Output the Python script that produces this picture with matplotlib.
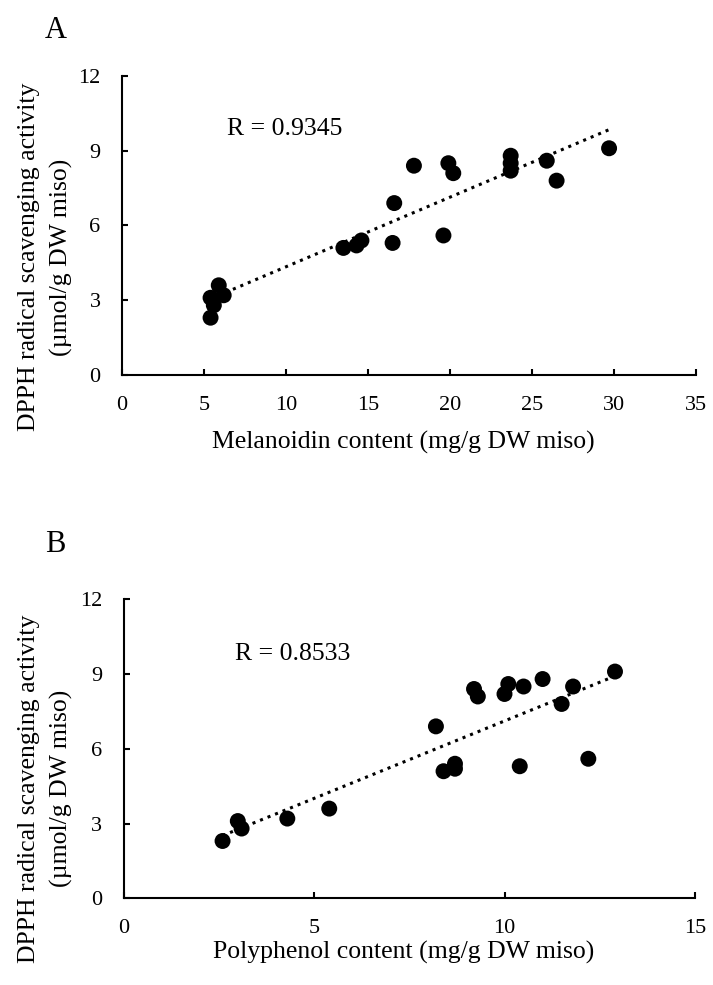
import numpy as np
import matplotlib
matplotlib.use("Agg")
import matplotlib.pyplot as plt

plt.rcParams['font.family'] = ['Liberation Serif', 'DejaVu Serif']

# Data
melanoidin = [5.4, 5.6, 5.4, 5.9, 6.2, 13.5, 14.3, 14.6, 16.5, 16.6,
              17.8, 19.6, 19.9, 20.2, 23.7, 23.7, 23.7, 25.9, 26.5, 29.7]
dpph_a = [2.3, 2.8, 3.1, 3.6, 3.2, 5.1, 5.2, 5.4, 5.3, 6.9,
          8.4, 5.6, 8.5, 8.1, 8.8, 8.5, 8.2, 8.6, 7.8, 9.1]

polyphenol = [2.6, 3.0, 3.1, 4.3, 5.4, 8.2, 8.4, 8.7, 8.7, 9.2,
              9.3, 10.0, 10.1, 10.4, 10.5, 11.0, 11.5, 11.8, 12.2, 12.9]
dpph_b = [2.3, 3.1, 2.8, 3.2, 3.6, 6.9, 5.1, 5.4, 5.2, 8.4,
          8.1, 8.2, 8.6, 5.3, 8.5, 8.8, 7.8, 8.5, 5.6, 9.1]

r_labels = ["R = 0.9345", "R = 0.8533"]
panel_labels = ["A", "B"]
x_labels = ["Melanoidin content (mg/g DW miso)", "Polyphenol content (mg/g DW miso)"]
y_label = "DPPH radical scavenging activity\n(\u00b5mol/g DW miso)"
y_ticks = [0, 3, 6, 9, 12]
x_ticks_a = [0, 5, 10, 15, 20, 25, 30, 35]
x_ticks_b = [0, 5, 10, 15]

W, H = 713, 985
fig = plt.figure(figsize=(W / 100, H / 100), dpi=100)

axA = fig.add_axes([122 / W, 1 - 375 / H, 574 / W, 299 / H])
axB = fig.add_axes([123.5 / W, 1 - 898.3 / H, 571.5 / W, 299 / H])

configs = [
    (axA, melanoidin, dpph_a, x_ticks_a, r_labels[0], (6.4, 9.64), x_labels[0],
     (-0.133, 0.395), (0.49, -0.224), panel_labels[0], (56, 30)),
    (axB, polyphenol, dpph_b, x_ticks_b, r_labels[1], (2.93, 9.57), x_labels[1],
     (-0.136, 0.366), (0.49, -0.18), panel_labels[1], (55, 545)),
]

for (ax, xs, ys, xt, rl, rpos, xl, ylc, xlc, pl, plpos) in configs:
    xs = np.asarray(xs)
    ys = np.asarray(ys)
    slope, intercept = np.polyfit(xs, ys, 1)
    xfit = np.array([xs.min(), xs.max()])
    ax.plot(xfit, slope * xfit + intercept, color='black', linestyle=':',
            linewidth=2.2, zorder=2)
    ax.scatter(xs, ys, s=132, color='black', edgecolors='none', zorder=3)

    ax.set_xlim(xt[0], xt[-1])
    ax.set_ylim(0, 12)
    ax.set_xticks(xt)
    ax.set_yticks(y_ticks)
    for s in ['top', 'right']:
        ax.spines[s].set_visible(False)
    for s in ['left', 'bottom']:
        ax.spines[s].set_linewidth(1.5)
    ax.tick_params(axis='both', direction='in', length=4.3, width=1.5,
                   labelsize=16)
    ax.tick_params(axis='y', pad=15.5)
    ax.tick_params(axis='x', pad=15)

    ax.text(rpos[0], rpos[1], rl, fontsize=18.5, ha='left', va='baseline')

    ax.set_xlabel(xl, fontsize=18.5)
    ax.xaxis.set_label_coords(*xlc)
    ax.xaxis.label.set_va('center')

    ax.set_ylabel(y_label, fontsize=18.5, linespacing=1.55)
    ax.yaxis.set_label_coords(*ylc)
    ax.yaxis.label.set_va('center')
    ax.yaxis.label.set_ha('center')

    fig.text(plpos[0] / W, 1 - plpos[1] / H, pl, fontsize=22,
             ha='center', va='center')

fig.savefig("out.png", dpi=100)
